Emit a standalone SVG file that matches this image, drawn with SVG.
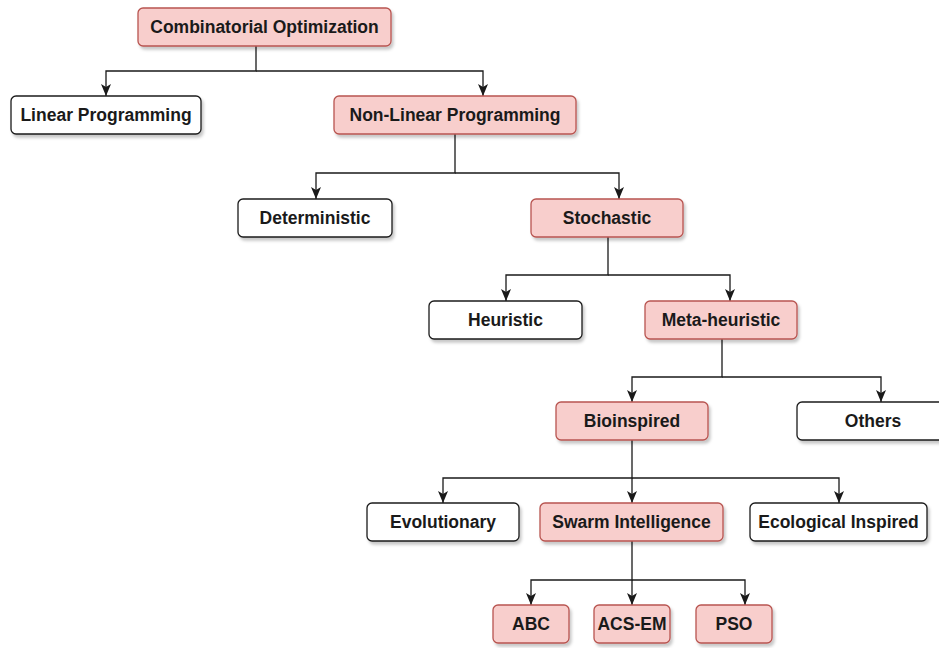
<svg xmlns="http://www.w3.org/2000/svg" width="939" height="648" viewBox="0 0 939 648">
  <style>
    .box { stroke-width: 1.3; filter: url(#shadow); }
    .hl { fill: #f8cecc; stroke: #b85450; }
    .pl { fill: #ffffff; stroke: #1a1a1a; }
    .lbl { font-family: "Liberation Sans", Arial, sans-serif; font-weight: bold; font-size: 17.5px; fill: #1a1a1a; text-anchor: middle; }
    .edge { fill: none; stroke: #1a1a1a; stroke-width: 1.3; marker-end: url(#arrow); }
  </style>
  <defs>
    <filter id="shadow" x="-10%" y="-20%" width="130%" height="160%">
      <feDropShadow dx="2" dy="3" stdDeviation="1.5" flood-color="#000" flood-opacity="0.22"/>
    </filter>
    <marker id="arrow" markerUnits="userSpaceOnUse" markerWidth="14" markerHeight="14" viewBox="0 0 14 14" refX="13" refY="7" orient="auto">
      <path d="M1,2 L13,7 L1,12 L4,7 Z" fill="#1a1a1a"/>
    </marker>
  </defs>

  <rect width="939" height="648" fill="#ffffff"/>

  <g id="connectors">
    <path class="edge" d="M256,46 V71 H106 V96"/>
    <path class="edge" d="M256,71 H483 V96"/>
    <path class="edge" d="M455,134 V173 H316 V199"/>
    <path class="edge" d="M455,173 H619 V199"/>
    <path class="edge" d="M608,237 V275 H506 V301"/>
    <path class="edge" d="M608,275 H730 V301"/>
    <path class="edge" d="M722,339 V377 H632 V402"/>
    <path class="edge" d="M722,377 H881 V402"/>
    <path class="edge" d="M632,440 V478 H443 V503"/>
    <path class="edge" d="M632,478 V503"/>
    <path class="edge" d="M632,478 H839 V503"/>
    <path class="edge" d="M632,541 V580 H531 V605"/>
    <path class="edge" d="M632,580 V605"/>
    <path class="edge" d="M632,580 H745 V605"/>
  </g>

  <g id="combinatorial-optimization">
    <rect class="box hl" x="138" y="8" width="253" height="38" rx="5"/>
    <text class="lbl" x="264.5" y="33">Combinatorial Optimization</text>
  </g>
  <g id="linear-programming">
    <rect class="box pl" x="11" y="96" width="190" height="38" rx="5"/>
    <text class="lbl" x="106" y="121">Linear Programming</text>
  </g>
  <g id="non-linear-programming">
    <rect class="box hl" x="334" y="96" width="242" height="38" rx="5"/>
    <text class="lbl" x="455" y="121">Non-Linear Programming</text>
  </g>
  <g id="deterministic">
    <rect class="box pl" x="238" y="199" width="154" height="38" rx="5"/>
    <text class="lbl" x="315" y="224">Deterministic</text>
  </g>
  <g id="stochastic">
    <rect class="box hl" x="531" y="199" width="152" height="38" rx="5"/>
    <text class="lbl" x="607" y="224">Stochastic</text>
  </g>
  <g id="heuristic">
    <rect class="box pl" x="429" y="301" width="153" height="38" rx="5"/>
    <text class="lbl" x="505.5" y="326">Heuristic</text>
  </g>
  <g id="meta-heuristic">
    <rect class="box hl" x="645" y="301" width="152" height="38" rx="5"/>
    <text class="lbl" x="721" y="326">Meta-heuristic</text>
  </g>
  <g id="bioinspired">
    <rect class="box hl" x="556" y="402" width="152" height="38" rx="5"/>
    <text class="lbl" x="632" y="427">Bioinspired</text>
  </g>
  <g id="others">
    <rect class="box pl" x="797" y="402" width="152" height="38" rx="5"/>
    <text class="lbl" x="873" y="427">Others</text>
  </g>
  <g id="evolutionary">
    <rect class="box pl" x="367" y="503" width="152" height="38" rx="5"/>
    <text class="lbl" x="443" y="528">Evolutionary</text>
  </g>
  <g id="swarm-intelligence">
    <rect class="box hl" x="540" y="503" width="183" height="38" rx="5"/>
    <text class="lbl" x="631.5" y="528">Swarm Intelligence</text>
  </g>
  <g id="ecological-inspired">
    <rect class="box pl" x="750" y="503" width="177" height="38" rx="5"/>
    <text class="lbl" x="838.5" y="528">Ecological Inspired</text>
  </g>
  <g id="abc">
    <rect class="box hl" x="493" y="605" width="76" height="38" rx="5"/>
    <text class="lbl" x="531" y="630">ABC</text>
  </g>
  <g id="acs-em">
    <rect class="box hl" x="594" y="605" width="76" height="38" rx="5"/>
    <text class="lbl" x="632" y="630">ACS-EM</text>
  </g>
  <g id="pso">
    <rect class="box hl" x="696" y="605" width="76" height="38" rx="5"/>
    <text class="lbl" x="734" y="630">PSO</text>
  </g>
</svg>
